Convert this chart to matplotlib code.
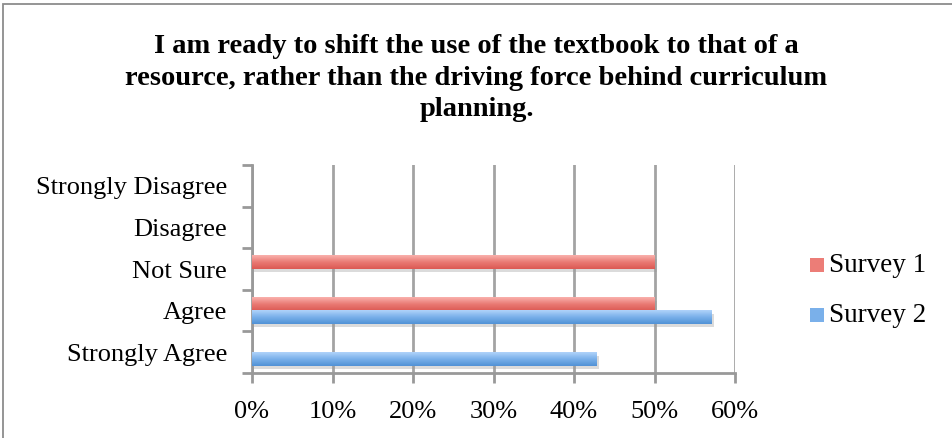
import matplotlib.pyplot as plt
import matplotlib.patheffects as pe
from matplotlib.patches import Rectangle
from matplotlib.colors import LinearSegmentedColormap
import numpy as np

categories = ['Strongly Agree', 'Agree', 'Not Sure', 'Disagree', 'Strongly Disagree']
survey1 = [0.0, 0.50, 0.50, 0.0, 0.0]
survey2 = [3 / 7, 4 / 7, 0.0, 0.0, 0.0]
xticks = [0, 0.1, 0.2, 0.3, 0.4, 0.5, 0.6]
xtick_labels = ['0%', '10%', '20%', '30%', '40%', '50%', '60%']
title = ('I am ready to shift the use of the textbook to that of a\n'
         'resource, rather than the driving force behind curriculum\n'
         'planning.')

plt.rcParams['font.family'] = ['Liberation Serif', 'DejaVu Serif']

W, H = 953, 438
fig = plt.figure(figsize=(W / 100, H / 100), dpi=100)

# outer chart frame, runs off the right and bottom edge
fig.patches.append(Rectangle((3 / W, -0.1), 1.1, 1 - 4 / H + 0.1, transform=fig.transFigure,
                             fill=False, edgecolor='#8c8c8c', linewidth=1.3))

ax = fig.add_axes([252 / W, 1 - 373 / H, (735 - 252) / W, (373 - 165) / H])

y = np.arange(len(categories))
h = 0.32
grad_red = LinearSegmentedColormap.from_list('r', ['#dc5953', '#e97a74', '#fab1ad'])
grad_blue = LinearSegmentedColormap.from_list('b', ['#5192d6', '#79b0ea', '#b0d3fa'])

shadow = [pe.SimplePatchShadow(offset=(1.5, -2.5), shadow_rgbFace='#999999', alpha=0.35), pe.Normal()]
bars1 = ax.barh(y + h / 2, survey1, height=h, color='#ec7d77', linewidth=0, path_effects=shadow, zorder=3)
bars2 = ax.barh(y - h / 2, survey2, height=h, color='#7ab0ea', linewidth=0, path_effects=shadow, zorder=3)

# vertical gradient fill inside each bar, lighter at the top
grad = np.linspace(0, 1, 64).reshape(-1, 1)
for bars, cmap in ((bars1, grad_red), (bars2, grad_blue)):
    for b in bars:
        if b.get_width() <= 0:
            continue
        x0, y0 = b.get_x(), b.get_y()
        ax.imshow(grad, cmap=cmap, aspect='auto', origin='lower', interpolation='bilinear',
                  extent=(x0, x0 + b.get_width(), y0, y0 + b.get_height()), zorder=4)

ax.set_xlim(0, 0.6)
ax.set_ylim(-0.5, len(categories) - 0.5)
ax.set_xticks(xticks)
ax.set_xticklabels(xtick_labels, fontsize=19)
ax.set_yticks(y)
ax.set_yticklabels(categories, fontsize=19)
ax.set_yticks(np.arange(-0.5, len(categories)), minor=True)
ax.tick_params(axis='y', which='major', length=0, pad=18)
ax.tick_params(axis='y', which='minor', length=7, width=2, color='#999999')
ax.tick_params(axis='x', length=7, width=2, color='#999999', pad=13)

ax.grid(axis='x', color='#a3a3a3', linewidth=2, zorder=0)
for s in ('top', 'right'):
    ax.spines[s].set_visible(False)
for s in ('left', 'bottom'):
    ax.spines[s].set_color('#999999')
    ax.spines[s].set_linewidth(2)

fig.text(0.5, 1 - 34 / H, title, ha='center', va='top', fontsize=20.5, fontweight='bold',
         linespacing=1.35)

# legend
for ty, col, lab in ((265, '#ec7d77', 'Survey 1'), (315, '#7ab0ea', 'Survey 2')):
    fig.patches.append(Rectangle((810 / W, 1 - (ty + 7) / H), 14 / W, 14 / H,
                                 transform=fig.transFigure, facecolor=col, edgecolor='none'))
    fig.text(829 / W, 1 - ty / H, lab, ha='left', va='center', fontsize=19.5)

fig.savefig('out.png', dpi=100)
